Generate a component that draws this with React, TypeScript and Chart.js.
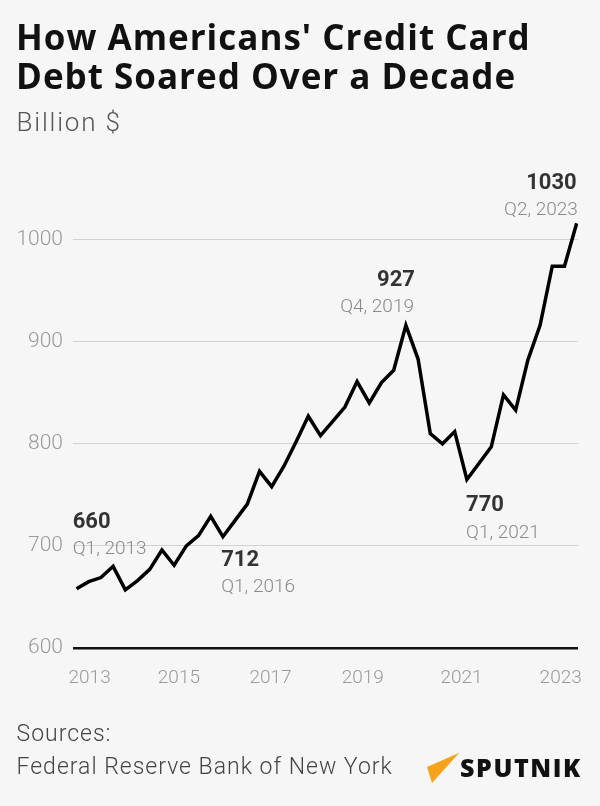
import React, { useEffect, useRef } from "react";
import { Chart, registerables } from "chart.js";

Chart.register(...registerables);

// ---- data ----
const quarters = [
  "Q1 2013", "Q2 2013", "Q3 2013", "Q4 2013",
  "Q1 2014", "Q2 2014", "Q3 2014", "Q4 2014",
  "Q1 2015", "Q2 2015", "Q3 2015", "Q4 2015",
  "Q1 2016", "Q2 2016", "Q3 2016", "Q4 2016",
  "Q1 2017", "Q2 2017", "Q3 2017", "Q4 2017",
  "Q1 2018", "Q2 2018", "Q3 2018", "Q4 2018",
  "Q1 2019", "Q2 2019", "Q3 2019", "Q4 2019",
  "Q1 2020", "Q2 2020", "Q3 2020", "Q4 2020",
  "Q1 2021", "Q2 2021", "Q3 2021", "Q4 2021",
  "Q1 2022", "Q2 2022", "Q3 2022", "Q4 2022",
  "Q1 2023", "Q2 2023",
];

// Billion $ (as plotted in the reference line)
const debt = [
  658, 665, 669, 680, 657, 666, 677, 696, 681, 700,
  710, 729, 709, 725, 741, 773, 758, 778, 802, 827,
  808, 822, 836, 861, 840, 860, 872, 916, 883, 810,
  800, 812, 765, 781, 797, 848, 833, 882, 916, 974,
  974, 1016,
];

const yTicks = [600, 700, 800, 900, 1000];
const xTickLabels = ["2013", "2015", "2017", "2019", "2021", "2023"];
// quarter index under which each year label sits
const xTickAt = [1.07, 8.39, 15.9, 23.47, 31.56, 39.69];

// callouts
const calloutIndex = [0, 12, 27, 32, 41];
const calloutValue = ["660", "712", "927", "770", "1030"];
const calloutQuarter = ["Q1, 2013", "Q1, 2016", "Q4, 2019", "Q1, 2021", "Q2, 2023"];

// callout placement (style only)
const calloutPlace: { align: CanvasTextAlign; dx: number; dy: number; dx2: number }[] = [
  { align: "left", dx: -3.8, dy: -60.8, dx2: -3.8 },
  { align: "left", dx: -1.7, dy: 28.8, dx2: -1.7 },
  { align: "right", dx: 9.1, dy: -39.5, dx2: 8.1 },
  { align: "left", dx: -0.8, dy: 31.8, dx2: -0.8 },
  { align: "right", dx: 0, dy: -34.7, dx2: 1.2 },
];

const LIGHT = "Roboto";

const calloutPlugin = {
  id: "callouts",
  afterDatasetsDraw(chart: any) {
    const { ctx, scales } = chart;
    const x = scales.x;
    const y = scales.y;
    ctx.save();
    calloutIndex.forEach((idx, k) => {
      const px = x.getPixelForValue(idx);
      const py = y.getPixelForValue(debt[idx]);
      const p = calloutPlace[k];
      ctx.textAlign = p.align;
      ctx.textBaseline = "alphabetic";
      ctx.font = `700 22px Roboto`;
      ctx.fillStyle = "#333333";
      ctx.fillText(calloutValue[k], px + p.dx, py + p.dy);
      ctx.font = `300 19px ${LIGHT}`;
      ctx.fillStyle = "#8a8a8a";
      ctx.fillText(calloutQuarter[k], px + p.dx2, py + p.dy + 26.5);
    });
    ctx.restore();
  },
};

export default function App() {
  const ref = useRef<HTMLCanvasElement | null>(null);

  useEffect(() => {
    if (!ref.current) return;
    const chart = new Chart(ref.current, {
      type: "line",
      data: {
        labels: quarters,
        datasets: [
          {
            label: "Credit card debt",
            data: debt.map((v, i) => ({ x: i, y: v })),
            borderColor: "#000000",
            borderWidth: 3.5,
            pointRadius: 0,
            tension: 0,
            borderJoinStyle: "miter",
            borderCapStyle: "butt",
            fill: false,
          },
        ],
      },
      options: {
        animation: false,
        responsive: false,
        devicePixelRatio: 1,
        events: [],
        layout: { padding: { top: 188.55, right: 22, bottom: 0, left: 0 } },
        plugins: {
          legend: { display: false },
          tooltip: { enabled: false },
        },
        scales: {
          x: {
            type: "linear",
            min: -0.29,
            max: 41.11,
            grid: { display: false },
            border: { display: false },
            afterBuildTicks: (s: any) => {
              s.ticks = xTickAt.map((v) => ({ value: v }));
            },
            afterFit: (s: any) => {
              s.height = 806 - 648;
            },
            ticks: {
              autoSkip: false,
              maxRotation: 0,
              padding: 11,
              color: "#9a9a9a",
              font: { family: LIGHT, size: 19, weight: "300" as any },
              callback: (_v: any, i: number) => xTickLabels[i],
            },
          },
          y: {
            type: "linear",
            min: 600,
            max: 1050,
            border: { display: false },
            afterBuildTicks: (s: any) => {
              s.ticks = yTicks.map((v) => ({ value: v }));
            },
            afterFit: (s: any) => {
              s.width = 73;
            },
            grid: {
              drawTicks: false,
              color: (c: any) => (c.tick && c.tick.value === 600 ? "#111111" : "#d2d2d2"),
              lineWidth: (c: any) => (c.tick && c.tick.value === 600 ? 2.5 : 1),
            },
            ticks: {
              padding: 10,
              color: "#9a9a9a",
              font: { family: LIGHT, size: 21, weight: "300" as any },
              callback: (v: any) => String(v),
            },
          },
        },
      },
      plugins: [calloutPlugin],
    });
    return () => chart.destroy();
  }, []);

  return (
    <div
      style={{
        position: "relative",
        width: 600,
        height: 806,
        background: "#f6f6f6",
        overflow: "hidden",
      }}
    >
      <style>{`body{margin:0;}`}</style>
      <canvas
        ref={ref}
        width={600}
        height={806}
        style={{ position: "absolute", left: 0, top: 0, width: 600, height: 806 }}
      />
      <div
        style={{
          position: "absolute",
          left: 16,
          top: 16.6,
          fontFamily: "'Open Sans'",
          fontWeight: 700,
          fontSize: 35,
          lineHeight: "39px",
          letterSpacing: 1,
          color: "#111",
          whiteSpace: "nowrap",
        }}
      >
        How Americans' Credit Card
        <br />
        Debt Soared Over a Decade
      </div>
      <div
        style={{
          position: "absolute",
          left: 16.5,
          top: 108,
          fontFamily: LIGHT,
          fontWeight: 300,
          fontSize: 26,
          lineHeight: "28px",
          letterSpacing: 1.8,
          color: "#555",
          whiteSpace: "nowrap",
        }}
      >
        Billion $
      </div>
      <div
        style={{
          position: "absolute",
          left: 16.5,
          top: 717,
          fontFamily: LIGHT,
          fontWeight: 300,
          fontSize: 23,
          lineHeight: "33px",
          letterSpacing: 1,
          color: "#444",
          whiteSpace: "nowrap",
        }}
      >
        Sources:
        <br />
        Federal Reserve Bank of New York
      </div>
      <svg
        width={40}
        height={40}
        viewBox="0 0 40 40"
        style={{ position: "absolute", left: 424, top: 748 }}
      >
        <polygon points="3,19 35.3,4.7 8,35" fill="#f7a21b" />
      </svg>
      <div
        style={{
          position: "absolute",
          left: 460,
          top: 752,
          fontFamily: "'Open Sans'",
          fontWeight: 800,
          fontSize: 25,
          lineHeight: "30px",
          letterSpacing: 1.6,
          color: "#111",
          whiteSpace: "nowrap",
        }}
      >
        SPUTNIK
      </div>
    </div>
  );
}
